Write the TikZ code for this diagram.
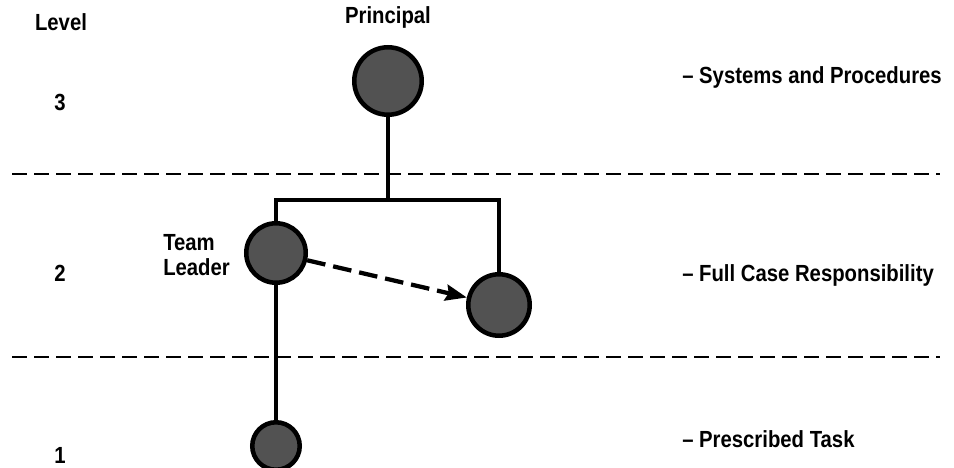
\documentclass[tikz,border=0pt]{standalone}
\usepackage{fontspec}
\setmainfont{Liberation Sans}[FakeStretch=0.87]
\usetikzlibrary{arrows.meta}
\begin{document}
\begin{tikzpicture}[x=0.75pt,y=-0.75pt,
  lbl/.style={font=\fontsize{17.5}{20}\selectfont\bfseries, inner sep=0pt},
  person/.style={circle, draw=black, line width=3.4pt, fill=black!68, inner sep=0pt},
  link/.style={line width=3.4pt, line join=miter},
  sep/.style={line width=2.2pt, dash pattern=on 11.5pt off 5pt},
  delegate/.style={line width=3.2pt, dash pattern=on 14pt off 6pt, -{Stealth[length=16pt,width=12pt,inset=2pt]}}]
\useasboundingbox (0,0) rectangle (954,468);
% level separators
\coordinate (s1a) at (12,174); \coordinate (s1b) at (940,174);
\coordinate (s2a) at (12,357); \coordinate (s2b) at (940,357);
\draw[sep] (s1a) -- (s1b);
\draw[sep] (s2a) -- (s2b);
% level labels
\node[lbl] (lev) at (61,22) {Level};
\node[lbl] (l3) at (60,102) {3};
\node[lbl] (l2) at (60,273) {2};
\node[lbl] (l1) at (60,455) {1};
% persons
\node[person, minimum size=50.6pt] (p) at (388,81) {};
\node[person, minimum size=44.6pt] (tl) at (276,253) {};
\node[person, minimum size=46.1pt] (rc) at (499,305) {};
\node[person, minimum size=35.6pt] (sm) at (276,446) {};
\node[lbl] (pl) at (388,17) {Principal};
\node[lbl, anchor=west, align=left] (tll) at (163,255) {Team\\[-1pt]Leader};
% connectors
\coordinate (j) at (388,200);
\draw[link] (p) -- (j);
\draw[link] (tl) |- (j) -| (rc);
\draw[link] (tl) -- (sm);
\draw[delegate] (tl) -- (rc);
% right labels
\node[lbl, anchor=west] (r3) at (682,77) {-- Systems and Procedures};
\node[lbl, anchor=west] (r2) at (682,275) {-- Full Case Responsibility};
\node[lbl, anchor=west] (r1) at (682,439) {-- Prescribed Task};
\end{tikzpicture}
\end{document}
